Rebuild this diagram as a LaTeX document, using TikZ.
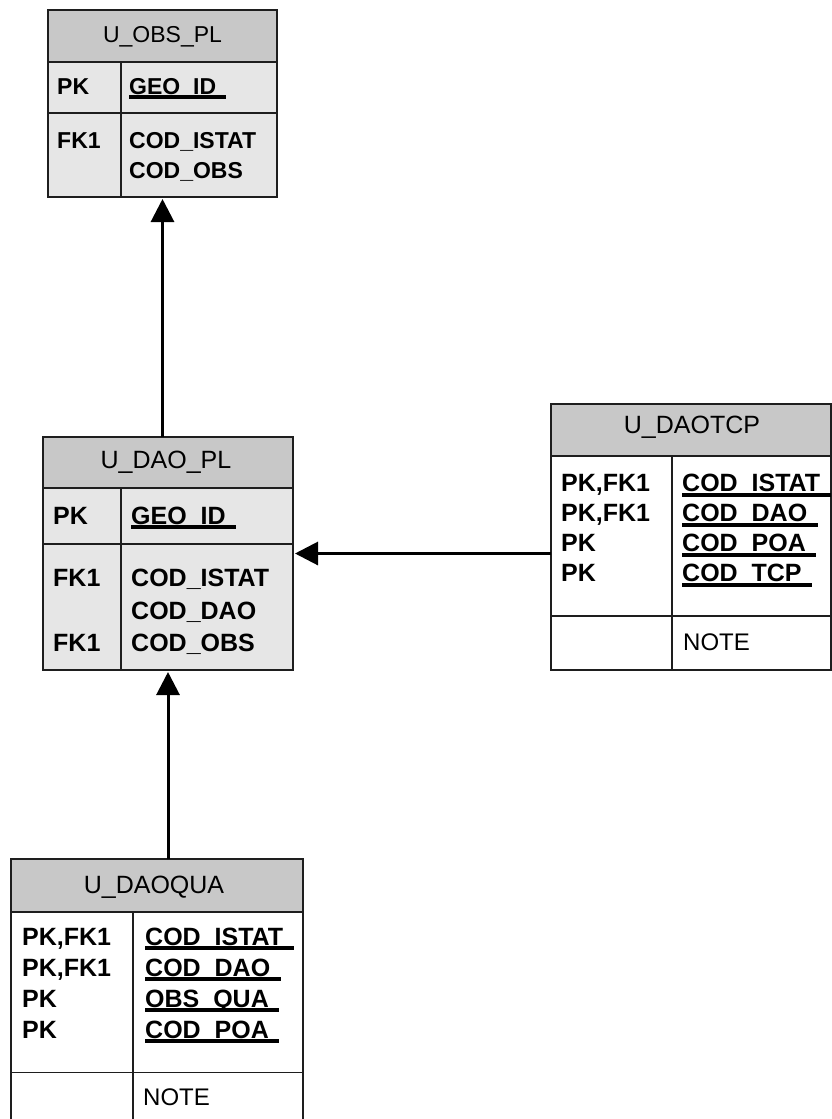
\documentclass[tikz,border=0pt]{standalone}
\usepackage{fontspec}
\setmainfont{Liberation Sans}
\usetikzlibrary{arrows.meta}
\definecolor{hdr}{HTML}{C8C8C8}
\definecolor{bodyg}{HTML}{E6E6E6}
\definecolor{edge}{HTML}{1E1E1E}
\newcommand\ulpk[1]{\setbox0\hbox{#1\hspace{0.42em}}\rlap{\rule[-5pt]{\wd0}{3.6pt}}#1}
\tikzset{
  tbl/.style={draw=edge,line width=1.6pt,inner sep=0pt,outer sep=0pt,rectangle},
  hdrbox/.style={draw=edge,line width=1.6pt,fill=hdr},
  sepline/.style={draw=edge,line width=1.6pt},
  fld/.style={anchor=base west,inner sep=0pt,font=\fontsize{25}{30}\selectfont\bfseries},
  fldsm/.style={anchor=base west,inner sep=0pt,font=\fontsize{23}{28}\selectfont\bfseries},
  ttl/.style={anchor=base,inner sep=0pt,font=\fontsize{25}{30}\selectfont},
  ttlsm/.style={anchor=base,inner sep=0pt,font=\fontsize{23}{28}\selectfont},
  note/.style={anchor=base west,inner sep=0pt,font=\fontsize{24}{28}\selectfont},
  conn/.style={line width=3pt,draw=black,-{Triangle[length=23pt,width=23pt]},shorten >=2pt}
}
\begin{document}
\begin{tikzpicture}[x=1pt,y=-1pt]
\useasboundingbox[fill=white] (0,0) rectangle (832,1119);

% ---------- U_OBS_PL ----------
\node[tbl,fill=bodyg,minimum width=229pt,minimum height=187pt] (obs) at (162.5,103.5) {};
\draw[hdrbox] (48,10) rectangle (277,62);
\draw[sepline] (48,113) -- (277,113);
\draw[sepline] (121,62) -- (121,197);
\node[ttlsm] (obst) at (162.5,42) {U\_OBS\_PL};
\node[fldsm] (obsk1) at (57,94) {PK};
\node[fldsm] (obsf1) at (129,94) {\ulpk{GEO\_ID}};
\node[fldsm] (obsk2) at (57,148) {FK1};
\node[fldsm] (obsf2) at (129,148) {COD\_ISTAT};
\node[fldsm] (obsf3) at (129,178) {COD\_OBS};

% ---------- U_DAO_PL ----------
\node[tbl,fill=bodyg,minimum width=250pt,minimum height=233pt] (dao) at (168,553.5) {};
\draw[hdrbox] (43,437) rectangle (293,488);
\draw[sepline] (43,544) -- (293,544);
\draw[sepline] (121,488) -- (121,670);
\node[ttl] (daot) at (166,468) {U\_DAO\_PL};
\node[fld] (daok1) at (53,524) {PK};
\node[fld] (daof1) at (131,524) {\ulpk{GEO\_ID}};
\node[fld] (daok2) at (53,586.5) {FK1};
\node[fld] (daof2) at (131,586.5) {COD\_ISTAT};
\node[fld] (daof3) at (131,619) {COD\_DAO};
\node[fld] (daok4) at (53,651.5) {FK1};
\node[fld] (daof4) at (131,651.5) {COD\_OBS};

% ---------- U_DAOTCP ----------
\node[tbl,fill=white,minimum width=280pt,minimum height=266pt] (tcp) at (691,537) {};
\draw[hdrbox] (551,404) rectangle (831,456);
\draw[sepline] (551,616) -- (831,616);
\draw[sepline] (672,456) -- (672,670);
\node[ttl] (tcpt) at (692,433) {U\_DAOTCP};
\node[fld] (tcpk1) at (561,491.5) {PK,FK1};
\node[fld] (tcpk2) at (561,521.5) {PK,FK1};
\node[fld] (tcpk3) at (561,551.5) {PK};
\node[fld] (tcpk4) at (561,581.5) {PK};
\node[fld] (tcpf1) at (682,491.5) {\ulpk{COD\_ISTAT}};
\node[fld] (tcpf2) at (682,521.5) {\ulpk{COD\_DAO}};
\node[fld] (tcpf3) at (682,551.5) {\ulpk{COD\_POA}};
\node[fld] (tcpf4) at (682,581.5) {\ulpk{COD\_TCP}};
\node[note] (tcpn) at (683,650) {NOTE};

% ---------- U_DAOQUA ----------
\node[tbl,fill=white,minimum width=292pt,minimum height=271pt] (qua) at (157,994.5) {};
\draw[hdrbox] (11,859) rectangle (303,912);
\draw[sepline] (11,1072.5) -- (303,1072.5);
\draw[sepline] (133,912) -- (133,1130);
\node[ttl] (quat) at (154,893) {U\_DAOQUA};
\node[fld] (quak1) at (22,945) {PK,FK1};
\node[fld] (quak2) at (22,976) {PK,FK1};
\node[fld] (quak3) at (22,1007) {PK};
\node[fld] (quak4) at (22,1038) {PK};
\node[fld] (quaf1) at (145,945) {\ulpk{COD\_ISTAT}};
\node[fld] (quaf2) at (145,976) {\ulpk{COD\_DAO}};
\node[fld] (quaf3) at (145,1007) {\ulpk{OBS\_QUA}};
\node[fld] (quaf4) at (145,1038) {\ulpk{COD\_POA}};
\node[note] (quan) at (143,1105) {NOTE};

% ---------- connectors ----------
\draw[conn] (dao.north -| obs.south) -- (obs.south);
\draw[conn] (qua.north -| dao.south) -- (dao.south);
\draw[conn] (tcp.west |- dao.east) -- (dao.east);
\end{tikzpicture}
\end{document}
